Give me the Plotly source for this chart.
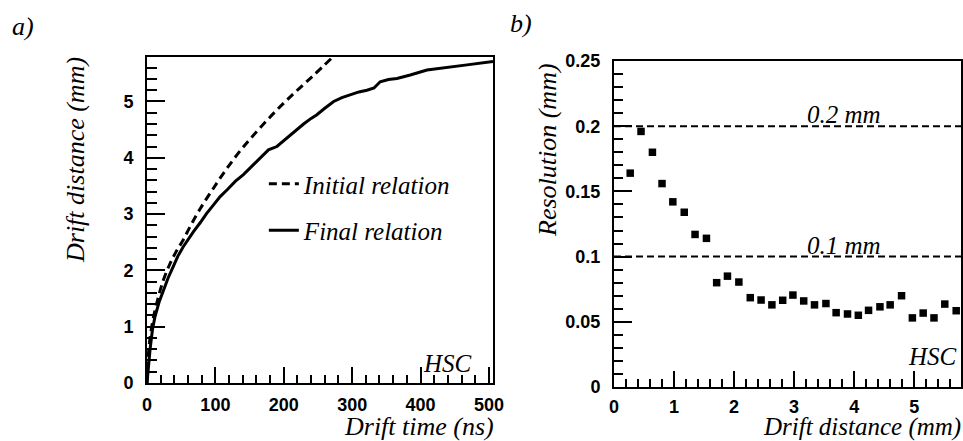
import plotly.graph_objects as go

# ---- Panel a): drift distance vs drift time ----
init_time = [0, 2, 5, 10, 16, 24, 33, 42, 52, 64, 78, 95, 115, 138, 163, 190, 218, 245, 270]
init_dist = [0, 0.5, 0.85, 1.2, 1.5, 1.83, 2.1, 2.32, 2.52, 2.8, 3.1, 3.42, 3.78, 4.15, 4.5,
             4.85, 5.18, 5.48, 5.77]

final_time = [0, 2, 4.4, 8, 11.7, 18, 24, 31, 38.5, 45, 53, 60, 68, 78, 87, 97, 107, 118, 129,
              141, 153, 165, 177.6, 190, 204.5, 216, 229, 240, 248, 260, 273, 285, 297, 310,
              321.6, 332, 341, 353, 365.5, 385, 409.5, 438.7, 468, 506]
final_dist = [0, 0.35, 0.59, 0.95, 1.18, 1.45, 1.65, 1.87, 2.07, 2.25, 2.42, 2.55, 2.69, 2.85,
              3.01, 3.16, 3.31, 3.44, 3.58, 3.7, 3.84, 3.98, 4.14, 4.2, 4.35, 4.48, 4.6, 4.7,
              4.76, 4.88, 5.0, 5.07, 5.12, 5.17, 5.2, 5.24, 5.35, 5.39, 5.41, 5.47, 5.56, 5.61,
              5.65, 5.71]

# ---- Panel b): resolution vs drift distance ----
res_dist = [0.27, 0.45, 0.64, 0.80, 0.98, 1.17, 1.35, 1.54, 1.71, 1.89, 2.08, 2.27, 2.45, 2.63,
            2.81, 2.98, 3.16, 3.34, 3.53, 3.70, 3.89, 4.07, 4.24, 4.43, 4.60, 4.79, 4.97, 5.15,
            5.33, 5.51, 5.70]
res_val = [0.164, 0.196, 0.180, 0.156, 0.142, 0.134, 0.117, 0.114, 0.080, 0.085, 0.0805, 0.0685,
           0.0667, 0.063, 0.0665, 0.0705, 0.066, 0.063, 0.064, 0.057, 0.056, 0.055, 0.0588,
           0.0615, 0.063, 0.070, 0.053, 0.0567, 0.053, 0.0636, 0.0585]

ref_levels = [0.2, 0.1]
ref_labels = ["0.2 mm", "0.1 mm"]

time_ticks = [0, 100, 200, 300, 400, 500]
dist_ticks = [0, 1, 2, 3, 4, 5]
res_ticks = [0, 0.05, 0.1, 0.15, 0.2, 0.25]
res_tick_text = ["0", "0.05", "0.1", "0.15", "0.2", "0.25"]

SERIF = "Liberation Serif"
SANS = "Liberation Sans"
tickfont = dict(family=SANS, size=18, color="black", weight="bold")

fig = go.Figure()

fig.add_trace(go.Scatter(x=init_time, y=init_dist, mode="lines", name="Initial relation",
                         line=dict(color="black", width=3, dash="8px,5px", shape="spline"),
                         xaxis="x", yaxis="y", legendgroup="a"))
fig.add_trace(go.Scatter(x=final_time, y=final_dist, mode="lines", name="Final relation",
                         line=dict(color="black", width=3),
                         xaxis="x", yaxis="y", legendgroup="b"))
fig.add_trace(go.Scatter(x=res_dist, y=res_val, mode="markers", showlegend=False,
                         marker=dict(symbol="square", size=7.5, color="black"),
                         xaxis="x2", yaxis="y2"))

for lev, lab in zip(ref_levels, ref_labels):
    fig.add_shape(type="line", xref="x2 domain", yref="y2", x0=0, x1=1, y0=lev, y1=lev,
                  line=dict(color="black", width=2, dash="7px,4px"))
    fig.add_annotation(xref="x2", yref="y2", x=3.83, y=lev + 0.0088, text=lab, showarrow=False,
                       font=dict(family=SERIF, size=25, style="italic", color="black"),
                       xanchor="center", yanchor="middle")

def axis(domain, rng, vals, texts, mdtick, anchor, majlen, minlen, standoff=8):
    return dict(domain=domain, range=rng, tickmode="array", tickvals=vals,
                ticktext=["<b>%s</b>" % t for t in texts], anchor=anchor,
                showline=True, linewidth=2, linecolor="black", mirror=True,
                ticks="inside", ticklen=majlen, tickwidth=1.5, tickcolor="black",
                minor=dict(dtick=mdtick, tick0=0, ticks="inside", ticklen=minlen,
                           tickwidth=1.5, tickcolor="black"),
                showgrid=False, zeroline=False, tickfont=tickfont, ticklabelstandoff=standoff,
                automargin=False)

fig.update_layout(
    template="none",
    width=963, height=441, margin=dict(l=0, r=0, t=0, b=0, pad=0), autosize=False,
    paper_bgcolor="white", plot_bgcolor="white",
    xaxis=axis([0.15265, 0.51194], [0, 506], time_ticks, [str(v) for v in time_ticks], 20, "y", 16, 8, 4),
    yaxis=axis([0.13152, 0.87075], [0, 5.79], dist_ticks, [str(v) for v in dist_ticks], 0.2, "x", 18, 10),
    xaxis2=axis([0.63759, 0.99792], [0, 5.78], dist_ticks, [str(v) for v in dist_ticks], 0.2, "y2", 16, 8, 2),
    yaxis2=axis([0.12245, 0.86168], [0, 0.25], res_ticks, res_tick_text, 0.01, "x2", 18, 9),
    legend=dict(x=0.274, y=1 - 161 / 441, xanchor="left", yanchor="top",
                font=dict(family=SERIF, size=25, style="italic", color="black"),
                bgcolor="rgba(0,0,0,0)", traceorder="grouped", tracegroupgap=11,
                itemwidth=30, borderwidth=0),
    showlegend=True,
)

ann_font = dict(family=SERIF, size=26, style="italic", color="black")
fig.add_annotation(xref="paper", yref="paper", x=76 / 963, y=1 - 55 / 441, text="Drift distance (mm)",
                   textangle=-90, showarrow=False, xanchor="center", yanchor="top", font=ann_font)
fig.add_annotation(xref="paper", yref="paper", x=547 / 963, y=1 - 61 / 441, text="Resolution (mm)",
                   textangle=-90, showarrow=False, xanchor="center", yanchor="top", font=ann_font)
fig.add_annotation(xref="paper", yref="paper", x=496 / 963, y=1 - 426 / 441, text="Drift time (ns)",
                   showarrow=False, xanchor="right", yanchor="middle",
                   font=dict(family=SERIF, size=26, style="italic", color="black"))
fig.add_annotation(xref="paper", yref="paper", x=963 / 963, y=1 - 427 / 441, text="Drift distance (mm)",
                   showarrow=False, xanchor="right", yanchor="middle",
                   font=dict(family=SERIF, size=25, style="italic", color="black"))
fig.add_annotation(xref="paper", yref="paper", x=23 / 963, y=1 - 27 / 441, text="a)",
                   showarrow=False, xanchor="center", yanchor="middle", font=ann_font)
fig.add_annotation(xref="paper", yref="paper", x=521 / 963, y=1 - 23 / 441, text="b)",
                   showarrow=False, xanchor="center", yanchor="middle", font=ann_font)
hsc_font = dict(family=SERIF, size=25, style="italic", color="black")
fig.add_annotation(xref="x domain", yref="y domain", x=0.945, y=0.06, text="HSC",
                   showarrow=False, xanchor="right", yanchor="middle", font=hsc_font)
fig.add_annotation(xref="x2 domain", yref="y2 domain", x=0.995, y=0.095, text="HSC",
                   showarrow=False, xanchor="right", yanchor="middle", font=hsc_font)

fig.write_html("out.html")
